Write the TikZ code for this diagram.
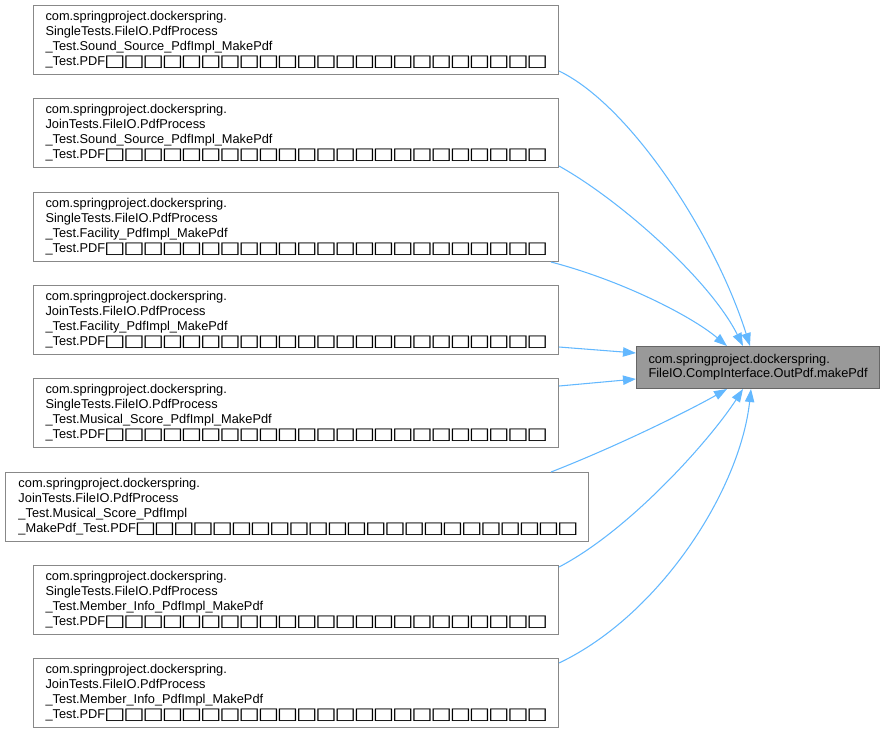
\documentclass[tikz,border=0pt]{standalone}
\usepackage{fontspec}
\setmainfont{Liberation Sans}
\newfontfamily\dejavu{DejaVu Sans}
\usetikzlibrary{arrows.meta,calc}
\hyphenpenalty=10000
\exhyphenpenalty=10000
\definecolor{edgeblue}{HTML}{63B8FF}
\definecolor{nodeborder}{HTML}{888888}
\definecolor{rootfill}{HTML}{999999}
\definecolor{rootborder}{HTML}{666666}
\newcommand\tofu{\makebox[14.4pt][c]{\raisebox{-0.7pt}{\smash{\scalebox{1.38}[1]{\fontsize{12.3pt}{12.3pt}\dejavu □}}}}}
\newcommand\tofus[1]{\foreach \k in {1,...,#1}{\tofu}}
\begin{document}
\begin{tikzpicture}[x=0.75pt,y=-0.75pt,
  caller/.style={draw=nodeborder, fill=white, line width=0.75pt, anchor=north west,
    minimum height=51.75pt, inner ysep=0pt, inner xsep=9pt, text width=375.75pt, align=left,
    font=\fontsize{9.6pt}{11.25pt}\selectfont},
  widecaller/.style={caller, inner xsep=9.75pt, text width=417.75pt},
  root/.style={draw=rootborder, fill=rootfill, line width=0.75pt, anchor=north west,
    minimum height=31.5pt, inner ysep=0pt, inner xsep=9pt, text width=164.25pt, align=left,
    font=\fontsize{9.6pt}{10.6pt}\selectfont},
  edge/.style={draw=edgeblue, line width=0.8pt, -{Triangle[length=9.75pt,width=7pt]}, edgeblue}]
\useasboundingbox (0,0) rectangle (884,733);

\node[caller] (c1) at (33,5) {com.springproject.dockerspring.\\SingleTests.FileIO.PdfProcess\\\_Test.Sound\_Source\_PdfImpl\_MakePdf\\\_Test.PDF\tofus{23}};
\node[caller] (c2) at (33,98) {com.springproject.dockerspring.\\JoinTests.FileIO.PdfProcess\\\_Test.Sound\_Source\_PdfImpl\_MakePdf\\\_Test.PDF\tofus{23}};
\node[caller] (c3) at (33,192) {com.springproject.dockerspring.\\SingleTests.FileIO.PdfProcess\\\_Test.Facility\_PdfImpl\_MakePdf\\\_Test.PDF\tofus{23}};
\node[caller] (c4) at (33,285) {com.springproject.dockerspring.\\JoinTests.FileIO.PdfProcess\\\_Test.Facility\_PdfImpl\_MakePdf\\\_Test.PDF\tofus{23}};
\node[caller] (c5) at (33,378) {com.springproject.dockerspring.\\SingleTests.FileIO.PdfProcess\\\_Test.Musical\_Score\_PdfImpl\_MakePdf\\\_Test.PDF\tofus{23}};
\node[widecaller] (c6) at (5,472) {com.springproject.dockerspring.\\JoinTests.FileIO.PdfProcess\\\_Test.Musical\_Score\_PdfImpl\\\_MakePdf\_Test.PDF\tofus{23}};
\node[caller] (c7) at (33,565) {com.springproject.dockerspring.\\SingleTests.FileIO.PdfProcess\\\_Test.Member\_Info\_PdfImpl\_MakePdf\\\_Test.PDF\tofus{23}};
\node[caller] (c8) at (33,658) {com.springproject.dockerspring.\\JoinTests.FileIO.PdfProcess\\\_Test.Member\_Info\_PdfImpl\_MakePdf\\\_Test.PDF\tofus{23}};

\node[root] (t) at (636,346) {com.springproject.dockerspring.\\FileIO.CompInterface.OutPdf.makePdf};

\draw[edge] ($(c1.south east)+(0,-4)$) .. controls (630,105) and (715,235) .. ($(t.north west)+(114,0)$);
\draw[edge] ($(c2.south east)+(0,-2)$) .. controls (620,200) and (710,280) .. ($(t.north west)+(107,0)$);
\draw[edge] ($(c3.south east)+(-8,0)$) .. controls (620,280) and (690,315) .. ($(t.north west)+(91,0)$);
\draw[edge] ($(c4.south east)+(0,-8)$) -- ($(t.north west)+(0,7)$);
\draw[edge] ($(c5.north east)+(0,8)$) -- ($(t.north west)+(0,33)$);
\draw[edge] ($(c6.north east)+(-38,0)$) .. controls (620,445) and (690,410) .. ($(t.south west)+(91,0)$);
\draw[edge] ($(c7.north east)+(0,2)$) .. controls (630,530) and (710,440) .. ($(t.south west)+(107,0)$);
\draw[edge] ($(c8.north east)+(0,5)$) .. controls (660,615) and (740,490) .. ($(t.south west)+(115,0)$);
\end{tikzpicture}
\end{document}
